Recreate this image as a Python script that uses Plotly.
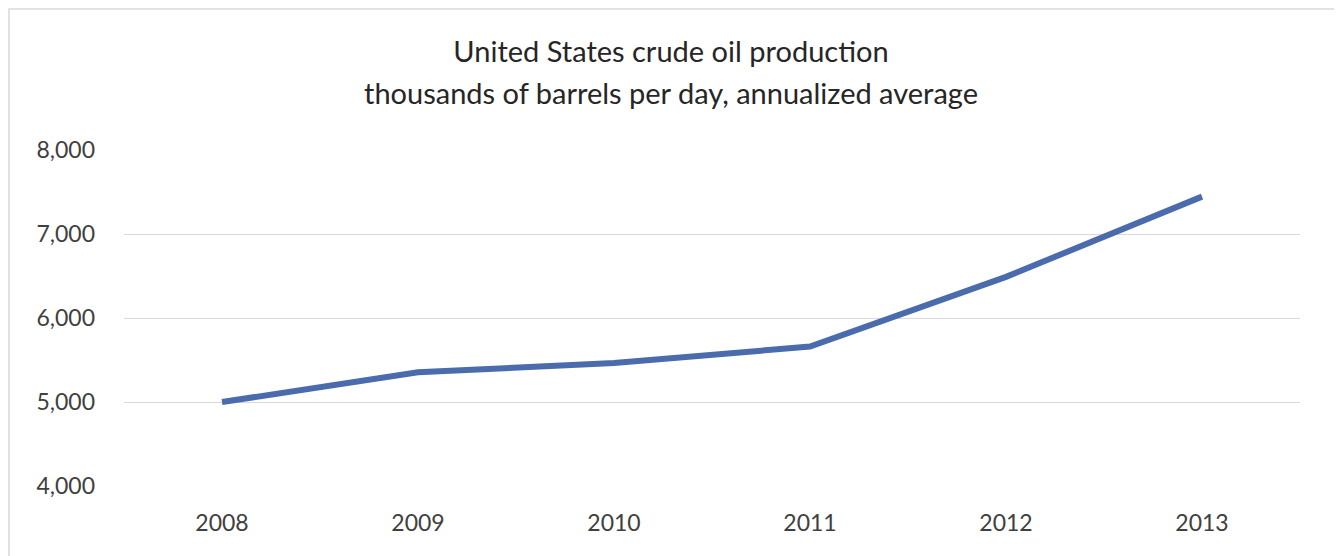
import plotly.graph_objects as go

# US crude oil production, thousands of barrels per day
years = ["2008", "2009", "2010", "2011", "2012", "2013"]
production = [5000, 5353, 5465, 5660, 6490, 7445]

y_ticks = [4000, 5000, 6000, 7000, 8000]
y_labels = ["4,000", "5,000", "6,000", "7,000", "8,000"]

font_name = "Lato"
text_color = "#404040"

# the page body has an 8px margin, so the figure is sized to fit inside it
fig_w, fig_h = 1334, 548
plot_w, plot_h = 1176, 336

fig = go.Figure()
fig.add_trace(go.Scatter(
    x=years, y=production, mode="lines",
    line=dict(color="#4A6BAC", width=6),
    showlegend=False,
))

fig.update_layout(
    width=fig_w, height=fig_h,
    margin=dict(l=116, r=42, t=142, b=70),
    paper_bgcolor="white", plot_bgcolor="white",
    font=dict(family=font_name, color=text_color),
    title=dict(
        text="United States crude oil production",
        x=663 / fig_w, xanchor="center", y=1 - 44 / fig_h, yanchor="middle",
        font=dict(family=font_name, size=29, color="#262626"),
    ),
    annotations=[dict(
        text="thousands of barrels per day, annualized average",
        xref="paper", yref="paper", x=547 / plot_w, y=(478 - 85) / plot_h,
        xanchor="center", yanchor="middle", showarrow=False,
        font=dict(family=font_name, size=29, color="#262626"),
    )],
    shapes=[dict(
        type="rect", xref="paper", yref="paper",
        x0=-115 / plot_w, x1=1216 / plot_w, y0=-0.3, y1=477 / plot_h,
        line=dict(color="#D9D9D9", width=1.5), layer="below",
    )],
)

fig.update_xaxes(
    type="category", range=[-0.5, 5.5],
    showgrid=False, showline=False, zeroline=False,
    ticks="", ticklabelstandoff=21,
    tickfont=dict(size=23, color=text_color),
)
fig.update_yaxes(
    range=[4000, 8000], tickvals=y_ticks, ticktext=y_labels,
    showgrid=True, gridcolor="#D9D9D9", gridwidth=1.2,
    zeroline=False, showline=False,
    ticks="", ticklabelstandoff=28,
    tickfont=dict(size=23, color=text_color),
)

fig.write_html("out.html")
